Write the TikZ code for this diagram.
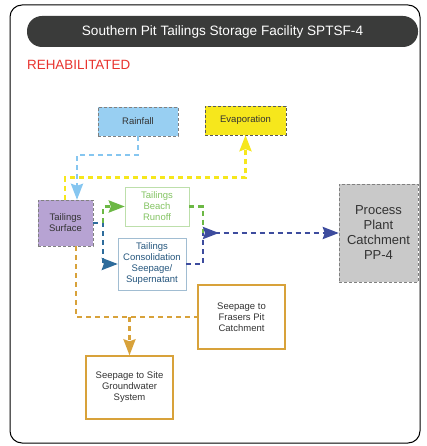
\documentclass[tikz,border=0pt]{standalone}
\usepackage{fontspec}
\setmainfont{Liberation Sans}
\usetikzlibrary{arrows.meta}
\definecolor{bargrey}{HTML}{3A3B3A}
\definecolor{rehabred}{HTML}{E8332E}
\definecolor{rainblue}{HTML}{86C6F0}
\definecolor{evapyellow}{HTML}{F6E71C}
\definecolor{surfpurple}{HTML}{B7A3D3}
\definecolor{runoffgreen}{HTML}{6CB845}
\definecolor{seepblue}{HTML}{2E6C9C}
\definecolor{plantblue}{HTML}{3D4C9E}
\definecolor{groundorange}{HTML}{D8A23A}
\definecolor{plantgrey}{HTML}{C9C9C9}
\definecolor{ink}{HTML}{333333}

\begin{document}
\begin{tikzpicture}[x=1pt, y=-1pt, >={Stealth[length=16pt,width=12pt,inset=2pt]},
    font=\fontsize{9.5}{11}\selectfont,
    box/.style={inner sep=1pt, align=center, text=ink},
    flow/.style={line width=2.6pt, dash pattern=on 5pt off 4pt}]
  \useasboundingbox (0,0) rectangle (426,446);
  % frame and title
  \draw[rounded corners=12pt, line width=1pt] (10,5) rectangle (420,443);
  \node (title) [fill=bargrey, rounded corners=15pt, minimum width=391pt, minimum height=31pt,
    text=white, font=\fontsize{13.6}{15}\selectfont] at (222.5,31.5) {Southern Pit Tailings Storage Facility SPTSF-4};
  \node (rehab) [anchor=west, inner sep=0pt, text=rehabred, font=\fontsize{13.4}{15}\selectfont] at (27,65) {REHABILITATED};
  % boxes
  \node (rain) [box, fill=rainblue!85, draw=gray, densely dashed, minimum width=80pt, minimum height=29pt] at (138,121.5) {Rainfall};
  \node (evap) [box, fill=evapyellow, draw=gray!70!black, densely dashed, minimum width=81pt, minimum height=29pt] at (245.5,120.5) {Evaporation};
  \node (surf) [box, fill=surfpurple, draw=gray, densely dashed, minimum width=55pt, minimum height=46pt] at (65.5,223) {Tailings\\Surface};
  \node (runoff) [box, draw=runoffgreen!45, text=runoffgreen!85, minimum width=64pt, minimum height=39pt] at (157,206.5) {Tailings\\Beach\\Runoff};
  \node (consol) [box, draw=seepblue!45, text=seepblue!80!black, minimum width=68pt, minimum height=52pt] at (152,264) {Tailings\\Consolidation\\Seepage/\\Supernatant};
  \node (pp) [box, fill=plantgrey, draw=gray, densely dashed, minimum width=79pt, minimum height=98pt,
    font=\fontsize{13}{15}\selectfont] at (378.5,233) {Process\\Plant\\Catchment\\PP-4};
  \node (fras) [box, draw=groundorange, line width=1.4pt, minimum width=87pt, minimum height=64pt] at (241.5,317) {Seepage to\\Frasers Pit\\Catchment};
  \node (gw) [box, draw=groundorange, line width=1.4pt, minimum width=87pt, minimum height=63pt] at (129.5,387.5) {Seepage to Site\\Groundwater\\System};
  % junctions
  \coordinate (sj) at (103,223);
  \coordinate (mj) at (203,233);
  % flows
  \draw[flow, rainblue, ->] (rain.south) -- ++(0,19) -| ([xshift=11.5pt]surf.north);
  \draw[flow, evapyellow, ->] ([xshift=-0.5pt]surf.north) -- ++(0,-22) -| (evap.south);
  \draw[flow, seepblue, ->] (surf.east) -- (sj) |- (consol.west);
  \draw[flow, runoffgreen, ->] (sj) |- (runoff.west);
  \draw[flow, runoffgreen] (runoff.east) -| (mj);
  \draw[flow, plantblue] (consol.east) -| (mj);
  \draw[flow, plantblue, {Stealth[length=16pt,width=12pt,inset=2pt,reversed]}->] (mj) -- (pp.west);
  \draw[flow, groundorange] ([xshift=10.5pt]surf.south) |- (fras.west);
  \draw[flow, groundorange, ->] (gw.north |- fras.west) -- (gw.north);
\end{tikzpicture}
\end{document}
